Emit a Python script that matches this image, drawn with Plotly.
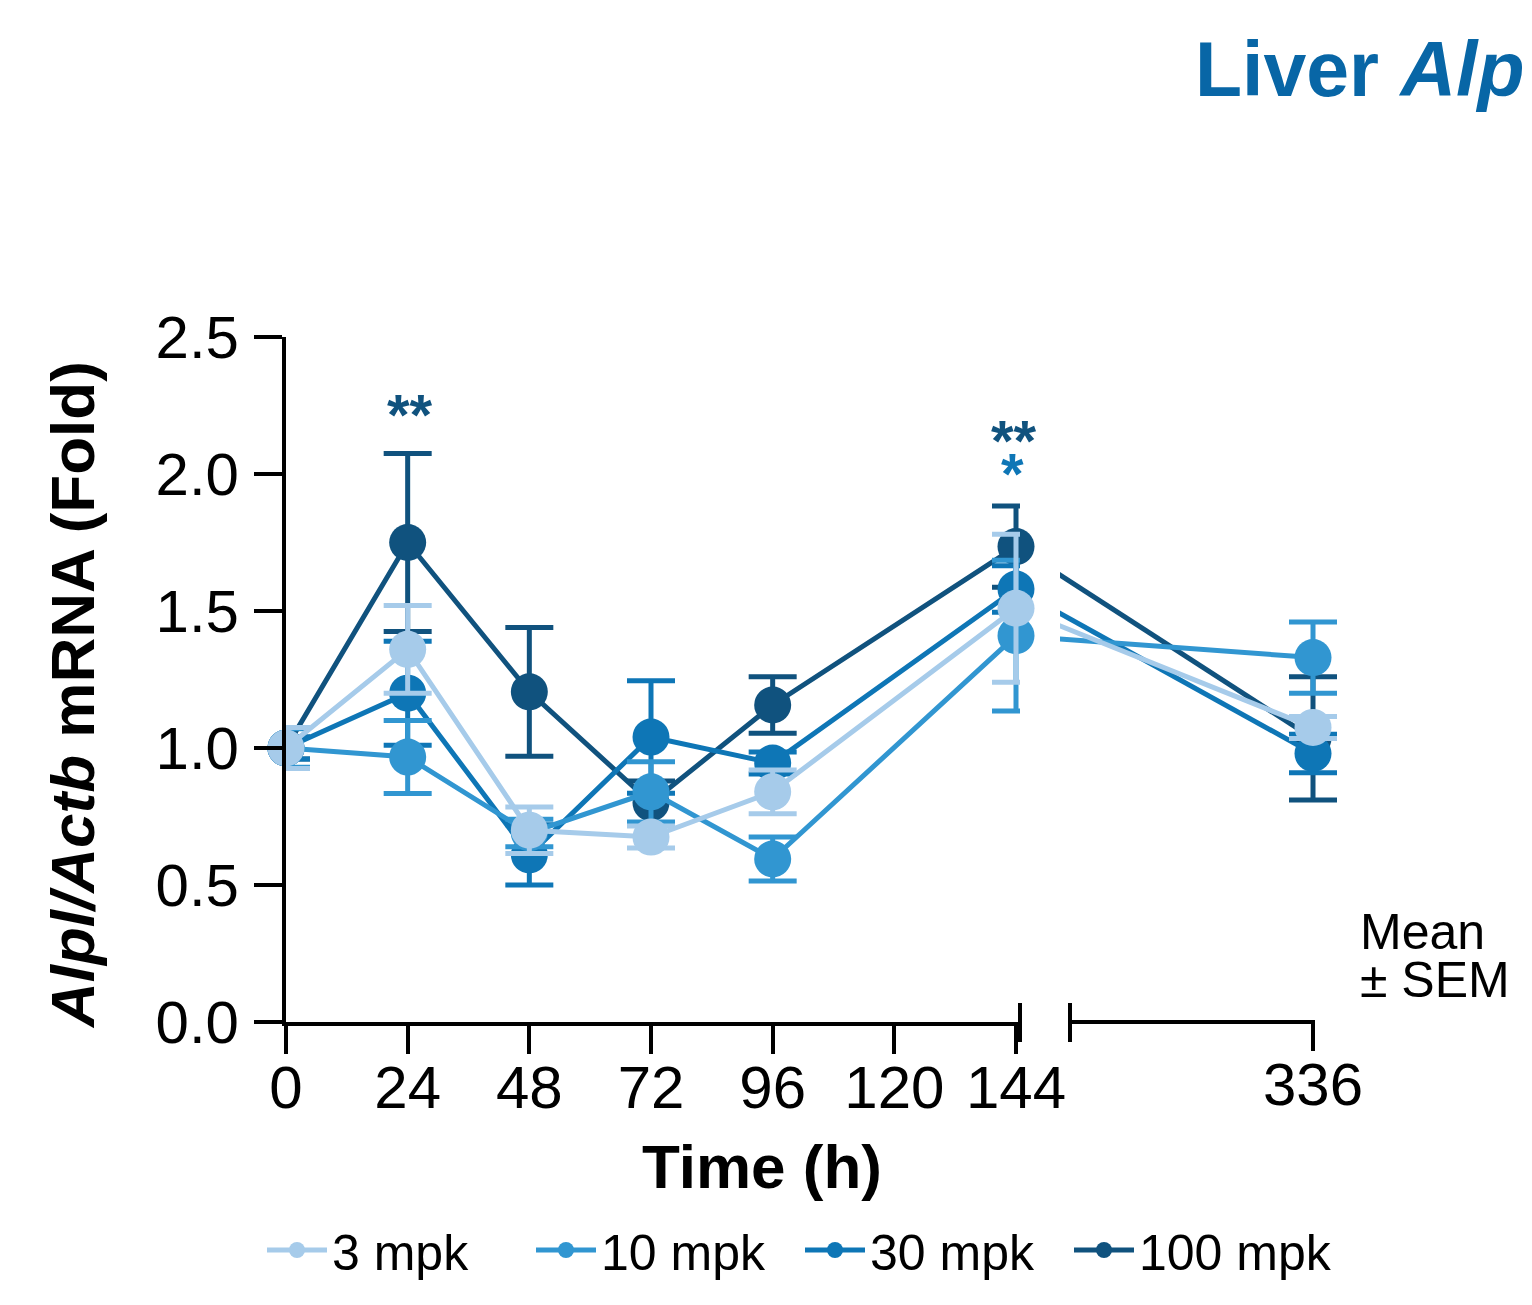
import plotly.graph_objects as go

# ---------------- data ----------------
times = [0, 24, 48, 72, 96, 144, 336]
x_ticks_seg1 = [0, 24, 48, 72, 96, 120, 144]
x_ticks_seg2 = [336]
y_ticks = [0.0, 0.5, 1.0, 1.5, 2.0, 2.5]
y_ticklabels = ["0.0", "0.5", "1.0", "1.5", "2.0", "2.5"]

series_names = ["3 mpk", "10 mpk", "30 mpk", "100 mpk"]
series_colors = ["#a6cbea", "#3196d1", "#0e76b6", "#10527e"]

mean_3 = [1.0, 1.36, 0.70, 0.675, 0.84, 1.51, 1.075]
sem_3 = [0.075, 0.16, 0.085, 0.04, 0.08, 0.27, 0.04]
mean_10 = [1.0, 0.967, 0.69, 0.84, 0.595, 1.41, 1.33]
sem_10 = [0.07, 0.133, 0.05, 0.11, 0.08, 0.275, 0.13]
mean_30 = [1.0, 1.20, 0.61, 1.04, 0.945, 1.58, 0.98]
sem_30 = [0.04, 0.19, 0.11, 0.205, 0.04, 0.085, 0.07]
mean_100 = [1.0, 1.75, 1.205, 0.80, 1.157, 1.735, 1.035]
sem_100 = [0.04, 0.325, 0.235, 0.08, 0.103, 0.148, 0.225]

means = [mean_3, mean_10, mean_30, mean_100]
sems = [sem_3, sem_10, sem_30, sem_100]

# ---------------- layout geometry (pixels) ----------------
W, H = 1532, 1305
OFF = 8  # page body margin
FONT = "Liberation Sans, Arial, Helvetica, sans-serif"

def fx(p):
    return (p - OFF) / W

def fy(p):
    return 1 - (p - OFF) / H

X0_PX, X144_PX, SEG1_END_PX = 286, 1016, 1020
X336_PX = 1313
SEG2_CLIP_PX, SEG2_END_PX = 1060, 1420
SEG2_LINE_START_PX = 1070
Y0_PX, YTOP_PX = 1022, 337

k1 = (X144_PX - X0_PX) / 144.0
k2 = (X336_PX - X144_PX) / (336.0 - 144.0)
x1_range = [0, 144 + (SEG1_END_PX - X144_PX) / k1]
x2_range = [144 + (SEG2_CLIP_PX - X144_PX) / k2, 144 + (SEG2_END_PX - X144_PX) / k2]

fig = go.Figure()

for i in reversed(range(4)):
    col = series_colors[i]
    common = dict(
        mode="lines+markers",
        line=dict(color=col, width=5),
        marker=dict(color=col, size=37, line=dict(width=0)),
        legendgroup=series_names[i],
        name=series_names[i],
    )
    fig.add_trace(go.Scatter(
        x=times[:6], y=means[i][:6],
        error_y=dict(type="data", array=sems[i][:6], visible=True,
                     color=col, thickness=5, width=24),
        xaxis="x", yaxis="y", showlegend=True, cliponaxis=False,
        **common))
    fig.add_trace(go.Scatter(
        x=times[5:], y=means[i][5:],
        error_y=dict(type="data", array=sems[i][5:], visible=True,
                     color=col, thickness=5, width=24),
        xaxis="x2", yaxis="y", showlegend=False, cliponaxis=True,
        **common))

axis_common = dict(showgrid=False, zeroline=False, ticks="outside",
                   ticklen=28, tickwidth=4, tickcolor="black",
                   tickfont=dict(family=FONT, size=60, color="black"),
                   automargin=False)

fig.update_layout(
    width=W, height=H,
    margin=dict(l=0, r=0, t=0, b=0, pad=0),
    paper_bgcolor="white", plot_bgcolor="rgba(0,0,0,0)",
    template="none",
    font=dict(family=FONT, color="black"),
    xaxis=dict(domain=[fx(X0_PX), fx(SEG1_END_PX)], range=x1_range,
               tickvals=x_ticks_seg1, ticktext=[str(v) for v in x_ticks_seg1],
               showline=True, linewidth=4, linecolor="black", anchor="y",
               ticklabelstandoff=-18, **axis_common),
    xaxis2=dict(domain=[fx(SEG2_CLIP_PX), fx(SEG2_END_PX)], range=x2_range,
                tickvals=x_ticks_seg2, ticktext=[str(v) for v in x_ticks_seg2],
                showline=False, anchor="y", ticklabelstandoff=-18, **axis_common),
    yaxis=dict(domain=[fy(Y0_PX), fy(YTOP_PX)], range=[0, 2.5],
               tickvals=y_ticks, ticktext=y_ticklabels,
               showline=True, linewidth=4, linecolor="black", anchor="x",
               ticklabelstandoff=3, **axis_common),
    legend=dict(orientation="h", x=fx(262), xanchor="left",
                y=fy(1250), yanchor="middle", traceorder="reversed",
                font=dict(family=FONT, size=50, color="black"),
                itemwidth=60, entrywidth=194, entrywidthmode="pixels",
                bgcolor="rgba(0,0,0,0)"),
    showlegend=True,
)

# second-segment axis line and break marks
fig.add_shape(type="line", xref="paper", yref="paper",
              x0=fx(SEG2_LINE_START_PX), x1=fx(X336_PX + 2), y0=fy(Y0_PX), y1=fy(Y0_PX),
              line=dict(color="black", width=4))
for bx in (SEG1_END_PX, SEG2_LINE_START_PX):
    fig.add_shape(type="line", xref="paper", yref="paper",
                  x0=fx(bx), x1=fx(bx), y0=fy(1003), y1=fy(1042),
                  line=dict(color="black", width=4))

ann = []
# axis titles
ann.append(dict(text="<b>Time (h)</b>", x=fx(762), y=fy(1166), xref="paper", yref="paper",
                xanchor="center", yanchor="middle", showarrow=False,
                font=dict(family=FONT, size=62, color="black")))
ann.append(dict(text="<b><i>Alpl/Actb</i> mRNA (Fold)</b>", x=fx(72), y=fy(695),
                xref="paper", yref="paper", xanchor="center", yanchor="middle",
                textangle=-90, showarrow=False,
                font=dict(family=FONT, size=62, color="black")))
# title (cut at the right edge as in the original)
ann.append(dict(text="<b>Liver <i>Alpl</i></b>", x=fx(1193), y=fy(69), xref="paper", yref="paper",
                xanchor="left", yanchor="middle", showarrow=False,
                font=dict(family=FONT, size=77, color="#0866a6")))
# significance marks
ann.append(dict(text="<b>**</b>", x=fx(410), y=fy(414), xref="paper", yref="paper",
                xanchor="center", yanchor="middle", showarrow=False,
                font=dict(family=FONT, size=58, color=series_colors[3])))
ann.append(dict(text="<b>**</b>", x=fx(1014), y=fy(440), xref="paper", yref="paper",
                xanchor="center", yanchor="middle", showarrow=False,
                font=dict(family=FONT, size=58, color=series_colors[3])))
ann.append(dict(text="<b>*</b>", x=fx(1012), y=fy(474), xref="paper", yref="paper",
                xanchor="center", yanchor="middle", showarrow=False,
                font=dict(family=FONT, size=58, color=series_colors[2])))
# Mean ± SEM
ann.append(dict(text="Mean", x=fx(1358), y=fy(932), xref="paper", yref="paper",
                xanchor="left", yanchor="middle", showarrow=False,
                font=dict(family=FONT, size=50, color="black")))
ann.append(dict(text="± SEM", x=fx(1358), y=fy(980), xref="paper", yref="paper",
                xanchor="left", yanchor="middle", showarrow=False,
                font=dict(family=FONT, size=50, color="black")))
fig.update_layout(annotations=ann)

fig.write_html("out.html")
